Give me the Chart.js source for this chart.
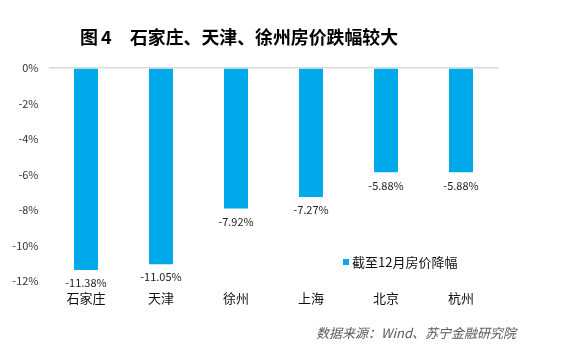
<!DOCTYPE html>
<html><head><meta charset="utf-8">
<script src="https://cdn.jsdelivr.net/npm/chart.js@4"></script>
<style>html,body{margin:0;padding:0;background:#fff}#wrap{width:588px;height:356px}</style>
</head><body><div id="wrap"><canvas id="c" width="588" height="356"></canvas></div>
<script>
const categories = ['石家庄','天津','徐州','上海','北京','杭州'];
const values = [-11.38, -11.05, -7.92, -7.27, -5.88, -5.88];
const seriesName = '截至12月房价降幅';
const titleFig = '图';
const titleNum = '4';
const titleText = '石家庄、天津、徐州房价跌幅较大';
const sourceText = '数据来源：Wind、苏宁金融研究院';
const FONT = '"Noto Sans CJK SC", "Microsoft YaHei", sans-serif';
const BAR = '#00A9EA';

const extras = {
  id: 'extras',
  afterDatasetsDraw(chart) {
    const ctx = chart.ctx;
    ctx.save();
    const meta = chart.getDatasetMeta(0);
    ctx.font = '11px ' + FONT;
    ctx.fillStyle = '#222';
    ctx.textAlign = 'center';
    ctx.textBaseline = 'middle';
    meta.data.forEach((bar, i) => {
      ctx.fillText(values[i].toFixed(2) + '%', bar.x, bar.y + 13);
    });
    // title
    ctx.font = 'bold 18px ' + FONT;
    ctx.fillStyle = '#000';
    ctx.textAlign = 'left';
    ctx.fillText(titleFig, 80, 37);
    ctx.fillText(titleNum, 101, 37);
    const w = ctx.measureText(titleText).width;
    ctx.save();
    ctx.translate(130, 37);
    ctx.scale(268 / w, 1);
    ctx.fillText(titleText, 0, 0);
    ctx.restore();
    // legend
    ctx.fillStyle = BAR;
    ctx.fillRect(343, 259, 6, 6);
    ctx.fillStyle = '#111';
    ctx.font = '13px ' + FONT;
    ctx.fillText(seriesName, 352, 262);
    // source
    ctx.font = 'italic 13px ' + FONT;
    ctx.fillStyle = '#595959';
    ctx.fillText(sourceText, 316, 333);
    ctx.restore();
  }
};

new Chart(document.getElementById('c'), {
  type: 'bar',
  data: { labels: categories, datasets: [{ label: seriesName, data: values, backgroundColor: BAR, barPercentage: 0.64, categoryPercentage: 0.5 }] },
  options: {
    responsive: false, animation: false,
    layout: { padding: { left: 0, top: 68, right: 89.5, bottom: 0 } },
    plugins: { legend: { display: false }, tooltip: { enabled: false } },
    scales: {
      x: {
        grid: { display: false, drawTicks: false },
        border: { display: false },
        ticks: { color: '#111', font: { family: FONT, size: 13 }, padding: 9 },
        afterFit(s) { s.height = 75; }
      },
      y: {
        min: -12, max: 0,
        grid: { color: ctx => ctx.tick.value === 0 ? '#D9D9D9' : 'rgba(0,0,0,0)', drawTicks: false, lineWidth: 1.5 },
        border: { display: false },
        ticks: { stepSize: 2, color: '#333', font: { family: FONT, size: 11 }, padding: 10, callback: v => v + '%' },
        afterFit(s) { s.width = 48.5; }
      }
    }
  },
  plugins: [extras]
});
</script></body></html>
